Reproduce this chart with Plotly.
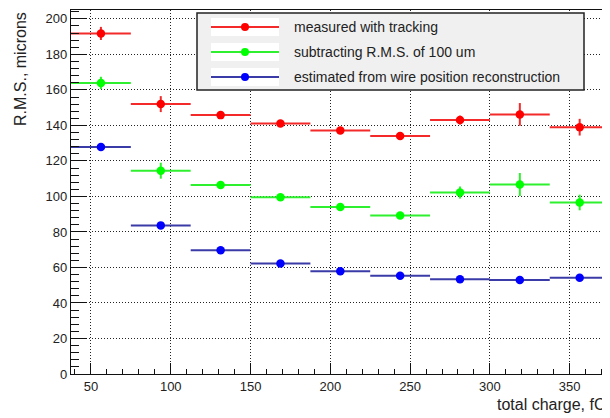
import plotly.graph_objects as go

# ---- data ----
bin_centers = [56.25, 93.75, 131.25, 168.75, 206.25, 243.75, 281.25, 318.75, 356.25]
bin_halfwidth = [18.75] * 9

red_vals = [191.8, 152.0, 145.8, 141.1, 137.2, 134.0, 143.0, 146.2, 139.0]
red_err = [3.7, 4.5, 1.5, 1.2, 1.2, 1.2, 2.5, 6.4, 4.7]

green_vals = [163.9, 114.5, 106.5, 99.6, 94.0, 89.3, 102.2, 106.7, 96.6]
green_err = [3.5, 4.5, 1.5, 1.5, 1.5, 1.5, 3.4, 6.5, 4.4]

blue_vals = [127.9, 83.7, 69.7, 62.2, 57.9, 55.3, 53.3, 52.9, 54.2]
blue_err = [1.0, 1.0, 1.0, 1.0, 1.0, 1.0, 1.0, 1.0, 1.0]

series_names = ["measured with tracking",
                "subtracting R.M.S. of 100 um",
                "estimated from wire position reconstruction"]
marker_colors = ["#ff0000", "#00ff00", "#0000ff"]
bar_colors = ["#f42a2a", "#2ef02e", "#3b3ba8"]

x_title = "total charge, fC"
y_title = "R.M.S., microns"

# ---- layout geometry (page pixels; the page body adds an 8px margin) ----
OFF = 8
W, H = 610 - OFF, 418 - OFF
ML, MR, MT, MB = 71 - OFF, 2, 10 - OFF, 44
PW, PH = W - ML - MR, H - MT - MB


def px_x(p):
    return (p - OFF - ML) / PW


def px_y(p):
    return (MT + PH - (p - OFF)) / PH


FONT = "Liberation Sans, Arial, sans-serif"

fig = go.Figure()
for vals, errs, name, mc, bc in zip([red_vals, green_vals, blue_vals],
                                    [red_err, green_err, blue_err],
                                    series_names, marker_colors, bar_colors):
    fig.add_trace(go.Scatter(
        x=bin_centers, y=vals, mode="markers", name=name, showlegend=False,
        marker=dict(color=mc, size=8.5, line=dict(width=0)),
        error_x=dict(type="data", array=bin_halfwidth, width=0, thickness=2, color=bc),
        error_y=dict(type="data", array=errs, width=0, thickness=2, color=bc),
    ))

axis_common = dict(
    showline=True, linecolor="#111", linewidth=1.3, mirror=True,
    ticks="inside", tickcolor="#111", tickwidth=1,
    showgrid=True, gridcolor="#222", gridwidth=1, griddash="1px,2px",
    zeroline=False,
    tickfont=dict(family=FONT, size=13, color="#222"),
)

fig.update_xaxes(range=[37.5, 374], tick0=0, dtick=50, ticklen=11,
                 minor=dict(dtick=10, ticklen=5, tickcolor="#111", showgrid=False, ticks="inside"),
                 **axis_common)
fig.update_yaxes(range=[0, 205], tick0=0, dtick=20, ticklen=16,
                 minor=dict(dtick=4, ticklen=8, tickcolor="#111", showgrid=False, ticks="inside"),
                 **axis_common)

shapes = []
annotations = []

# legend box
shapes.append(dict(type="rect", xref="paper", yref="paper",
                   x0=px_x(197), x1=px_x(584), y0=px_y(90), y1=px_y(13),
                   fillcolor="#f0f0f0", line=dict(color="#222", width=1.5), layer="above"))
rows_y = [27, 52, 77]
for ry, name, mc, bc in zip(rows_y, series_names, marker_colors, bar_colors):
    shapes.append(dict(type="rect", xref="paper", yref="paper",
                       x0=px_x(211), x1=px_x(279), y0=px_y(ry + 9), y1=px_y(ry - 9),
                       fillcolor="white", line=dict(width=0), layer="above"))
    shapes.append(dict(type="line", xref="paper", yref="paper",
                       x0=px_x(211), x1=px_x(279), y0=px_y(ry), y1=px_y(ry),
                       line=dict(color=bc, width=2), layer="above"))
    shapes.append(dict(type="circle", xref="paper", yref="paper",
                       xsizemode="pixel", ysizemode="pixel",
                       xanchor=px_x(245), yanchor=px_y(ry),
                       x0=-4, x1=4, y0=-4, y1=4,
                       fillcolor=mc, line=dict(width=0), layer="above"))
    annotations.append(dict(text=name, xref="paper", yref="paper",
                            x=px_x(292), y=px_y(ry), xanchor="left", yanchor="middle",
                            showarrow=False, font=dict(family=FONT, size=14, color="#222")))

# axis titles
annotations.append(dict(text=x_title, xref="paper", yref="paper",
                        x=1.0, y=px_y(404), xanchor="right", yanchor="middle",
                        showarrow=False, font=dict(family=FONT, size=16, color="#222")))
annotations.append(dict(text=y_title, xref="paper", yref="paper",
                        x=px_x(20), y=1.0, xanchor="center", yanchor="top", textangle=-90,
                        showarrow=False, font=dict(family=FONT, size=16, color="#222")))

fig.update_layout(
    width=W, height=H,
    margin=dict(l=ML, r=MR, t=MT, b=MB),
    paper_bgcolor="white", plot_bgcolor="white",
    showlegend=False,
    shapes=shapes, annotations=annotations,
    font=dict(family=FONT, color="#222"),
)

fig.write_html("out.html")
